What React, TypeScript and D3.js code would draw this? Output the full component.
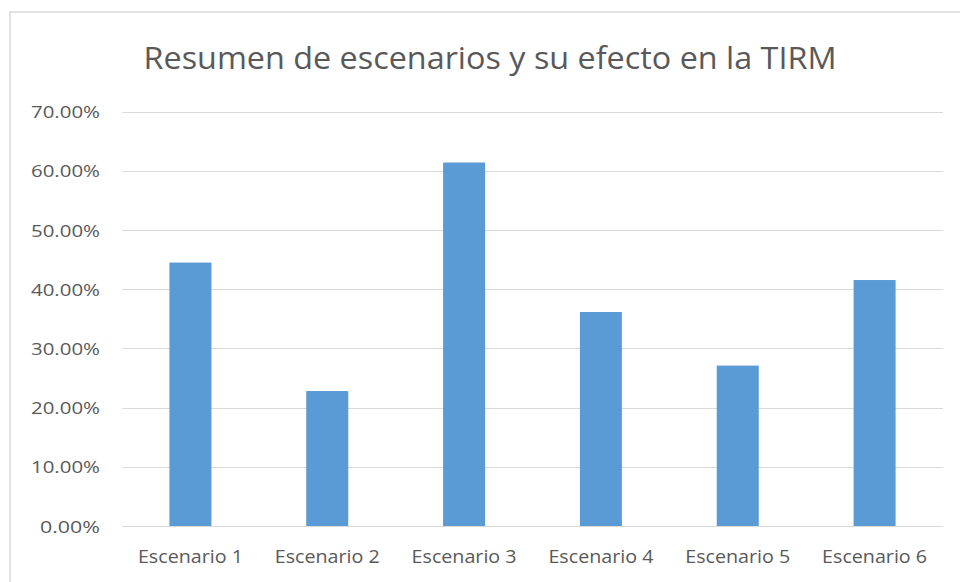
import React from "react";
import * as d3 from "d3";

const categories = ["Escenario 1", "Escenario 2", "Escenario 3", "Escenario 4", "Escenario 5", "Escenario 6"];
const values = [0.445, 0.228, 0.614, 0.3615, 0.271, 0.4155];
const yTicks = [0, 0.1, 0.2, 0.3, 0.4, 0.5, 0.6, 0.7];
const title = "Resumen de escenarios y su efecto en la TIRM";

const W = 960;
const H = 582;
const FONT = "'Open Sans', Lato, sans-serif";
const TEXT = "#595959";

export default function App() {
  const x = d3
    .scaleBand<string>()
    .domain(categories)
    .range([122, 943])
    .paddingInner(0.693)
    .paddingOuter(0.3465);
  const y = d3.scaleLinear().domain([0, 0.7]).range([526, 111.6]);
  const fmt = (v: number) => (v * 100).toFixed(2) + "%";

  return (
    <svg
      width={W}
      height={H}
      style={{ position: "absolute", left: 0, top: 0, background: "#fff" }}
      fontFamily={FONT}
    >
      <rect x={0} y={0} width={W} height={H} fill="#fff" />
      <rect x={10} y={12} width={980} height={600} fill="#fff" stroke="#D9D9D9" strokeWidth={1.5} />
      <text
        x={490}
        y={68.5}
        textAnchor="middle"
        fontSize={31}
        fill={TEXT}
        textLength={693}
        lengthAdjust="spacingAndGlyphs"
      >
        {title}
      </text>
      {yTicks.map((t) => (
        <g key={t}>
          <line x1={122} x2={943} y1={Math.round(y(t)) + 0.5} y2={Math.round(y(t)) + 0.5} stroke="#D9D9D9" strokeWidth={1} />
          <text
            x={100}
            y={y(t) + 6.5}
            textAnchor="end"
            fontSize={17}
            fill={TEXT}
            textLength={fmt(t).length === 6 ? 69 : 60}
            lengthAdjust="spacingAndGlyphs"
          >
            {fmt(t)}
          </text>
        </g>
      ))}
      {categories.map((c, i) => (
        <rect
          key={c}
          x={x(c)!}
          y={y(values[i])}
          width={x.bandwidth()}
          height={y(0) - y(values[i])}
          fill="#5B9BD5"
        />
      ))}
      {categories.map((c) => (
        <text
          key={c}
          x={x(c)! + x.bandwidth() / 2}
          y={562.5}
          textAnchor="middle"
          fontSize={17.5}
          fill={TEXT}
          textLength={105}
          lengthAdjust="spacingAndGlyphs"
        >
          {c}
        </text>
      ))}
    </svg>
  );
}
